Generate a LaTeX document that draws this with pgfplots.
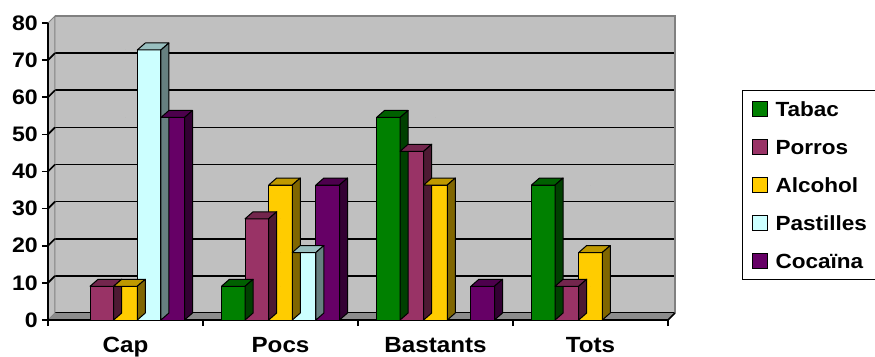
\documentclass[border=0pt]{standalone}
\usepackage{fontspec}
\setmainfont{Liberation Sans}[FakeStretch=1.1]
\usepackage{pgfplots}
\usepackage{pgfplotstable}
\pgfplotsset{compat=1.18}

\definecolor{wall}{HTML}{C0C0C0}
\definecolor{floorc}{HTML}{8C8C8C}
\definecolor{borderc}{HTML}{808080}
\definecolor{tabF}{HTML}{008000}\definecolor{tabT}{HTML}{006000}\definecolor{tabS}{HTML}{004000}
\definecolor{porF}{HTML}{993366}\definecolor{porT}{HTML}{73264D}\definecolor{porS}{HTML}{4D1A33}
\definecolor{alcF}{HTML}{FFCC00}\definecolor{alcT}{HTML}{BF9900}\definecolor{alcS}{HTML}{806600}
\definecolor{pasF}{HTML}{CCFFFF}\definecolor{pasT}{HTML}{99BFBF}\definecolor{pasS}{HTML}{668080}
\definecolor{cocF}{HTML}{660066}\definecolor{cocT}{HTML}{4D004D}\definecolor{cocS}{HTML}{330033}

% x: 0=Cap, 1=Pocs, 2=Bastants, 3=Tots (zero values omitted: no bar drawn)
\pgfplotstableread{
x y
1 9.09
2 54.55
3 36.36
}\tabac
\pgfplotstableread{
x y
0 9.09
1 27.27
2 45.45
3 9.09
}\porros
\pgfplotstableread{
x y
0 9.09
1 36.36
2 36.36
3 18.18
}\alcohol
\pgfplotstableread{
x y
0 72.73
1 18.18
}\pastilles
\pgfplotstableread{
x y
0 54.55
1 36.36
2 9.09
}\cocaina

\pgfplotsset{
  face/.style n args={3}{only marks, forget plot, mark=*, mark size=0pt, scatter,
    visualization depends on={\thisrow{y} \as \rawy},
    scatter/@pre marker code/.code={%
      \pgfmathsetmacro\Hh{\rawy*3.7125}%
      \filldraw[fill=#2, draw=black, line width=1pt, line join=round]
        ({#1-11.8pt},0pt) -- ({#1+11.8pt},0pt) -- ({#1+19.8pt},7pt) -- ({#1-3.8pt},7pt) -- cycle;
      \filldraw[fill=#3, draw=black, line width=1pt, line join=round]
        ({#1+11.8pt},0pt) -- ({#1+19.8pt},7pt) -- ({#1+19.8pt},{7pt-\Hh pt}) -- ({#1+11.8pt},{-\Hh pt}) -- cycle;
    },
    scatter/@post marker code/.code={}},
  front/.style 2 args={ybar, bar width=23.6pt, bar shift=#1, fill=#2, draw=black, line width=1pt,
    legend image code/.code={\draw[fill=#2, draw=black, line width=1pt] (0pt,-7.5pt) rectangle (15pt,7.5pt);}},
}

\begin{document}
\begin{tikzpicture}
\begin{axis}[
  name=ax,
  scale only axis, width=620pt, height=297pt,
  xmin=-0.5, xmax=3.5, ymin=0, ymax=80, clip=false,
  axis x line*=bottom, axis y line*=left,
  axis line style={line width=1.6pt, -},
  tick align=outside, major tick length=6pt, tick style={black, line width=1.6pt},
  xtick={-0.5,0.5,1.5,2.5,3.5}, xticklabels={},
  extra x ticks={0,1,2,3}, extra x tick labels={Cap,Pocs,Bastants,Tots},
  extra x tick style={major tick length=0pt},
  ytick={0,10,...,80},
  ymajorgrids, major grid style={black, line width=1.6pt, shift={(7pt,7pt)}},
  axis background/.style={fill=wall, shift={(7pt,7pt)}},
  /pgf/number format/assume math mode=true,
  tick label style={font=\bfseries\fontsize{21}{21}\selectfont},
  xticklabel style={font=\bfseries\fontsize{22}{22}\selectfont, anchor=base, inner sep=0pt, yshift=-32pt},
  yticklabel style={anchor=east, inner sep=0pt, xshift=-4pt},
  legend style={at={(1.1081,0.7508)}, anchor=north west, draw=black, line width=1pt, fill=white,
    font=\bfseries\fontsize{20.5}{20.5}\selectfont, inner xsep=9pt, inner ysep=9pt, row sep=19pt,
    column sep=8pt, nodes={inner sep=0pt, text height=17pt, text depth=2pt}},
  legend cell align=left,
]
% left wall, floor, wall border (frame of the 3-D chart)
\filldraw[fill=wall, draw=borderc, line width=1pt] (axis cs:-0.5,0) -- ([shift={(7pt,7pt)}]axis cs:-0.5,0) -- ([shift={(7pt,7pt)}]axis cs:-0.5,80) -- (axis cs:-0.5,80) -- cycle;
\pgfplotsinvokeforeach{10,20,...,70}{\draw[black, line width=1.6pt] (axis cs:-0.5,#1) -- ++(7pt,7pt);}
\draw[borderc, line width=2.5pt] ([shift={(7pt,7pt)}]axis cs:-0.5,80) -- ([shift={(7pt,7pt)}]axis cs:3.5,80) -- ([shift={(7pt,7pt)}]axis cs:3.5,0);
\fill[floorc] (axis cs:-0.5,0) -- (axis cs:3.5,0) -- ([shift={(7pt,7pt)}]axis cs:3.5,0) -- ([shift={(7pt,7pt)}]axis cs:-0.5,0) -- cycle;
\draw[black, line width=1.6pt] (axis cs:-0.5,80) -- (axis cs:-0.5,0) -- (axis cs:3.5,0) -- ++(7pt,7pt);

\addplot[face={-47.2pt}{tabT}{tabS}] table[x=x,y=y]{\tabac};
\addplot[front={-47.2pt}{tabF}] table[x=x,y=y]{\tabac};
\addplot[face={-23.6pt}{porT}{porS}] table[x=x,y=y]{\porros};
\addplot[front={-23.6pt}{porF}] table[x=x,y=y]{\porros};
\addplot[face={0pt}{alcT}{alcS}] table[x=x,y=y]{\alcohol};
\addplot[front={0pt}{alcF}] table[x=x,y=y]{\alcohol};
\addplot[face={23.6pt}{pasT}{pasS}] table[x=x,y=y]{\pastilles};
\addplot[front={23.6pt}{pasF}] table[x=x,y=y]{\pastilles};
\addplot[face={47.2pt}{cocT}{cocS}] table[x=x,y=y]{\cocaina};
\addplot[front={47.2pt}{cocF}] table[x=x,y=y]{\cocaina};
\legend{Tabac,Porros,Alcohol,Pastilles,Cocaïna}
\end{axis}
\pgfresetboundingbox
\useasboundingbox ([shift={(-55pt,-43pt)}]ax.south west) rectangle ([shift={(820pt,313pt)}]ax.south west);
\end{tikzpicture}
\end{document}
